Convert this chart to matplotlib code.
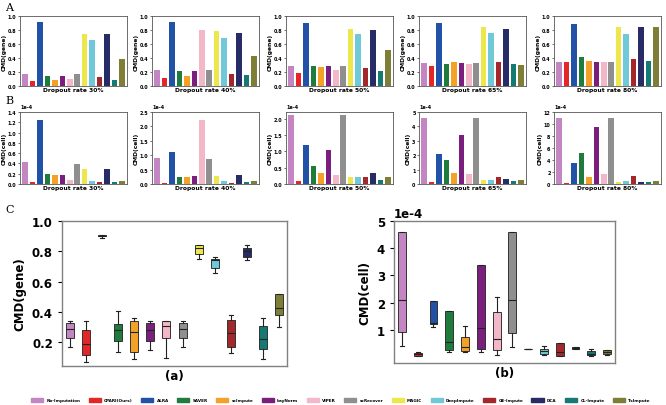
import matplotlib
matplotlib.use('Agg')
import matplotlib.pyplot as plt
import matplotlib.patches as patches
import numpy as np

plt.rcParams['axes.unicode_minus'] = False
plt.rcParams['font.family'] = ['DejaVu Sans']
plt.rcParams['font.weight'] = 'bold'

methods = ['No-Imputation', 'CPARI(Ours)', 'ALRA', 'SAVER', 'scImpute', 'bayNorm', 'VIPER',
           'scRecover', 'MAGIC', 'DeepImpute', 'GE-Impute', 'DCA', 'CL-Impute', 'TsImpute']
colors = ['#c386c2', '#e52629', '#2152a6', '#1f7c3c', '#f4a127', '#7a1f7e', '#f4b7c8',
          '#8f8f8f', '#eee74c', '#70c9d9', '#a3282b', '#272b66', '#157a73', '#7f7e36']
rates = ['30%', '40%', '50%', '65%', '80%']

# CMD(gene) per dropout rate
gene_30 = [0.17, 0.07, 0.91, 0.14, 0.09, 0.15, 0.10, 0.17, 0.75, 0.66, 0.13, 0.74, 0.09, 0.38]
gene_40 = [0.23, 0.12, 0.91, 0.21, 0.14, 0.21, 0.80, 0.23, 0.78, 0.69, 0.17, 0.76, 0.16, 0.43]
gene_50 = [0.29, 0.19, 0.90, 0.28, 0.27, 0.28, 0.23, 0.29, 0.82, 0.74, 0.26, 0.80, 0.22, 0.52]
gene_65 = [0.33, 0.28, 0.90, 0.32, 0.34, 0.33, 0.31, 0.33, 0.84, 0.76, 0.35, 0.82, 0.31, 0.30]
gene_80 = [0.34, 0.34, 0.89, 0.41, 0.36, 0.34, 0.34, 0.34, 0.84, 0.75, 0.38, 0.84, 0.36, 0.85]

# CMD(cell) per dropout rate, in units of 1e-4
cell_30 = [0.42, 0.03, 1.25, 0.20, 0.18, 0.18, 0.07, 0.38, 0.30, 0.06, 0.03, 0.30, 0.03, 0.06]
cell_40 = [0.92, 0.05, 1.10, 0.25, 0.23, 0.28, 2.22, 0.88, 0.28, 0.10, 0.05, 0.30, 0.06, 0.10]
cell_50 = [2.10, 0.10, 1.20, 0.55, 0.35, 1.05, 0.27, 2.10, 0.20, 0.22, 0.20, 0.33, 0.12, 0.20]
cell_65 = [4.60, 0.15, 2.05, 1.70, 0.75, 3.40, 0.68, 4.60, 0.30, 0.28, 0.50, 0.35, 0.22, 0.25]
cell_80 = [11.0, 0.20, 3.50, 5.20, 1.15, 9.50, 1.65, 11.0, 0.30, 0.42, 1.30, 0.38, 0.30, 0.55]

cell_ymax = [1.4, 2.5, 2.2, 5, 12]

gene = np.array([gene_30, gene_40, gene_50, gene_65, gene_80])
cell = np.array([cell_30, cell_40, cell_50, cell_65, cell_80]) * 1e-4

fig = plt.figure(figsize=(6.66, 4.06), dpi=100)
W, H = 666.0, 406.0
lefts = [20, 152, 286, 419, 554]


def style_small(ax):
    for s in ax.spines.values():
        s.set_color('#555555')
        s.set_linewidth(0.6)
    ax.set_xticks([])
    ax.tick_params(axis='y', labelsize=3.5, width=0.4, length=1.5, pad=1)
    for lab in ax.get_yticklabels():
        lab.set_fontweight('bold')


x = np.arange(len(methods))
for i, r in enumerate(rates):
    # row A: gene
    ax = fig.add_axes([lefts[i] / W, 1 - 87 / H, 107 / W, 70 / H])
    ax.bar(x, gene[i], width=0.75, color=colors)
    ax.set_ylim(0, 1.0)
    ax.set_xlim(-0.7, 13.7)
    ax.set_ylabel('CMD(gene)', fontsize=4.3, fontweight='bold', labelpad=1)
    ax.set_xlabel('Dropout rate ' + r, fontsize=4.3, fontweight='bold', labelpad=0.5)
    style_small(ax)

    # row B: cell
    ax = fig.add_axes([lefts[i] / W, 1 - 185 / H, 107 / W, 72 / H])
    ax.bar(x, cell[i], width=0.75, color=colors)
    ax.set_ylim(0, cell_ymax[i] * 1e-4)
    ax.set_xlim(-0.7, 13.7)
    ax.ticklabel_format(style='sci', axis='y', scilimits=(-4, -4))
    ax.yaxis.get_offset_text().set_fontsize(3.5)
    ax.yaxis.get_offset_text().set_fontweight('bold')
    ax.set_ylabel('CMD(cell)', fontsize=4.3, fontweight='bold', labelpad=1)
    ax.set_xlabel('Dropout rate ' + r, fontsize=4.3, fontweight='bold', labelpad=0.5)
    style_small(ax)


def draw_box(ax, data):
    bp = ax.boxplot([data[:, k] for k in range(len(methods))], positions=np.arange(1, 15),
                    widths=0.5, patch_artist=True, showfliers=False)
    for k, b in enumerate(bp['boxes']):
        b.set_facecolor(colors[k])
        b.set_edgecolor('#333333')
        b.set_linewidth(0.7)
    for part in ['whiskers', 'caps', 'medians']:
        for l in bp[part]:
            l.set_color('#222222')
            l.set_linewidth(0.8)
    ax.set_xlim(0.5, 14.5)
    ax.set_xticks([])
    for s in ax.spines.values():
        s.set_color('#808080')
        s.set_linewidth(1.0)
    ax.tick_params(axis='y', labelsize=8.5, width=0.8, length=3)
    for lab in ax.get_yticklabels():
        lab.set_fontweight('bold')


ax = fig.add_axes([62 / W, 1 - 367 / H, 225 / W, 145 / H])
draw_box(ax, gene)
ax.set_ylim(0.045, 1.0)
ax.set_yticks([0.2, 0.4, 0.6, 0.8, 1.0])
ax.set_ylabel('CMD(gene)', fontsize=8.5, fontweight='bold')
ax.set_xlabel('(a)', fontsize=8.5, fontweight='bold', labelpad=2)

ax = fig.add_axes([394 / W, 1 - 364 / H, 221 / W, 142 / H])
draw_box(ax, cell)
ax.set_ylim(-0.22e-4, 5e-4)
ax.set_yticks([1e-4, 2e-4, 3e-4, 4e-4, 5e-4])
ax.ticklabel_format(style='sci', axis='y', scilimits=(-4, -4))
ax.yaxis.get_offset_text().set_fontsize(8.5)
ax.yaxis.get_offset_text().set_fontweight('bold')
ax.set_ylabel('CMD(cell)', fontsize=8.5, fontweight='bold')
ax.set_xlabel('(b)', fontsize=8.5, fontweight='bold', labelpad=2)

handles = [patches.Patch(color=c, label=m) for m, c in zip(methods, colors)]
fig.legend(handles=handles, loc='center', bbox_to_anchor=(0.511, 0.012), ncol=14,
           frameon=False, handlelength=2.9, handleheight=0.9,
           handletextpad=0.8, columnspacing=2.0, prop={'size': 3, 'weight': 'bold'})

for lab, yy in [('A', 8), ('B', 101), ('C', 210)]:
    fig.text(5 / W, 1 - yy / H, lab, fontsize=8, fontweight='normal',
             family='DejaVu Serif', va='center', ha='left')

fig.savefig('out.png', dpi=100)
